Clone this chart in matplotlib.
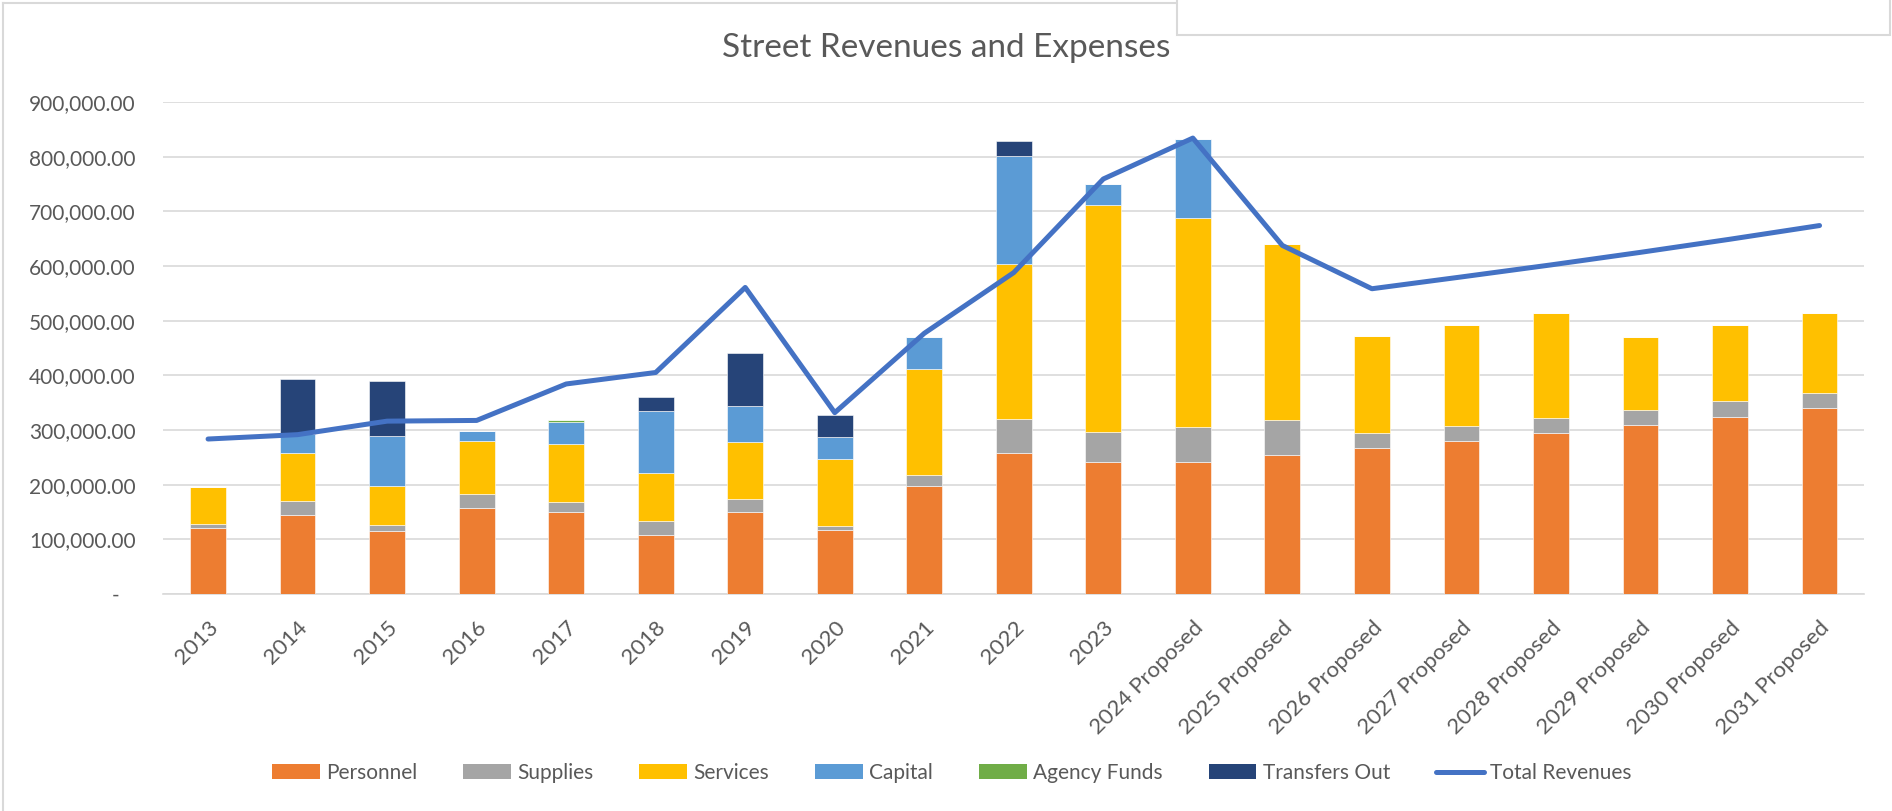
import matplotlib.pyplot as plt
import matplotlib.transforms as mtransforms
from matplotlib.ticker import FuncFormatter
from matplotlib.patches import Rectangle, Patch
from matplotlib.lines import Line2D
import numpy as np

plt.rcParams['font.family'] = ['Lato', 'DejaVu Sans']

years = ['2013', '2014', '2015', '2016', '2017', '2018', '2019', '2020', '2021', '2022', '2023',
         '2024 Proposed', '2025 Proposed', '2026 Proposed', '2027 Proposed', '2028 Proposed',
         '2029 Proposed', '2030 Proposed', '2031 Proposed']

personnel = [120500, 143800, 115500, 157500, 149400, 108600, 150700, 117900, 198300, 258700,
             242000, 240900, 254500, 266900, 279300, 293900, 308500, 323800, 339600]
supplies = [7900, 26000, 11100, 26000, 19800, 25400, 22800, 7400, 18500, 60600,
            55100, 64900, 63600, 27100, 28000, 27400, 28100, 28600, 28100]
services = [67300, 88400, 71700, 95600, 105700, 87700, 103800, 122300, 194600, 284200,
            414600, 382400, 321900, 177300, 185400, 193300, 133500, 139700, 146900]
capital = [0, 35000, 91400, 18600, 40100, 113700, 67400, 40200, 58600, 197200,
           38300, 143300, 0, 0, 0, 0, 0, 0, 0]
agency_funds = [0, 0, 0, 0, 3800, 0, 0, 0, 0, 0, 0, 0, 0, 0, 0, 0, 0, 0, 0]
transfers_out = [0, 100500, 99500, 0, 0, 24100, 96400, 39000, 0, 28300,
                 0, 0, 0, 0, 0, 0, 0, 0, 0]
total_revenues = [283500, 291500, 316200, 317500, 384200, 405200, 560800, 331700, 476900, 588000,
                  759200, 834000, 637600, 558400, 580000, 602000, 625000, 649000, 674000]

series = [('Personnel', personnel, '#ED7D31'),
          ('Supplies', supplies, '#A5A5A5'),
          ('Services', services, '#FFC000'),
          ('Capital', capital, '#5B9BD5'),
          ('Agency Funds', agency_funds, '#70AD47'),
          ('Transfers Out', transfers_out, '#264478')]

W, H = 1892, 811
fig = plt.figure(figsize=(W / 100, H / 100), dpi=100)
ax = fig.add_axes([163.3 / W, 1 - 594 / H, (1864.3 - 163.3) / W, (594 - 102) / H])

x = np.arange(len(years))
bottom = np.zeros(len(years))
handles = []
for name, vals, col in series:
    vals = np.array(vals, dtype=float)
    ax.bar(x, vals, 0.4, bottom=bottom, color=col, edgecolor='white', linewidth=0.4, zorder=3)
    bottom += vals
    handles.append(Patch(facecolor=col, label=name))

ax.plot(x, total_revenues, color='#4472C4', lw=3.6, solid_capstyle='round',
        solid_joinstyle='round', zorder=5)
handles.append(Line2D([], [], color='#4472C4', lw=3.6, solid_capstyle='round', label='Total Revenues'))

ax.set_xlim(-0.5, len(years) - 0.5)
ax.set_ylim(0, 900000)
ax.set_yticks(np.arange(0, 900001, 100000))
ax.yaxis.set_major_formatter(FuncFormatter(lambda v, p: f'{v:,.2f}' if v else '-   '))
ax.grid(axis='y', color='#D9D9D9', lw=1.2, zorder=0)
for s in ['top', 'right', 'left']:
    ax.spines[s].set_visible(False)
ax.spines['bottom'].set_color('#D9D9D9')
ax.spines['bottom'].set_linewidth(1.2)
ax.tick_params(axis='both', length=0, colors='#595959', labelsize=15)
ax.tick_params(axis='y', pad=20)
ax.tick_params(axis='x', pad=22, labelsize=16)

ax.set_xticks(x)
ax.set_xticklabels(years, rotation=45, ha='right', va='center', rotation_mode='anchor')
offset = mtransforms.ScaledTranslation(5 / 72, 0, fig.dpi_scale_trans)
for lbl in ax.get_xticklabels():
    lbl.set_transform(lbl.get_transform() + offset)

fig.text(0.5, 1 - 48 / H, 'Street Revenues and Expenses', ha='center', va='center',
         fontsize=24, color='#595959')

fig.legend(handles=handles, loc='center', bbox_to_anchor=(0.503, 1 - 773 / H), ncol=7,
           frameon=False, fontsize=15, labelcolor='#595959', handlelength=2.3,
           handleheight=0.72, handletextpad=0.3, columnspacing=2.2)

# chart frame and the overlapping box at the top right
fig.add_artist(Line2D([3 / W, 3 / W], [0, 1 - 3 / H], color='#D9D9D9', lw=1.5))
fig.add_artist(Line2D([3 / W, 1177 / W], [1 - 3 / H, 1 - 3 / H], color='#D9D9D9', lw=1.5))
fig.add_artist(Rectangle((1177 / W, 1 - 35 / H), (1890 - 1177) / W, 45 / H,
                         facecolor='white', edgecolor='#D9D9D9', lw=1.5, zorder=10))

fig.savefig('out.png', dpi=100)
